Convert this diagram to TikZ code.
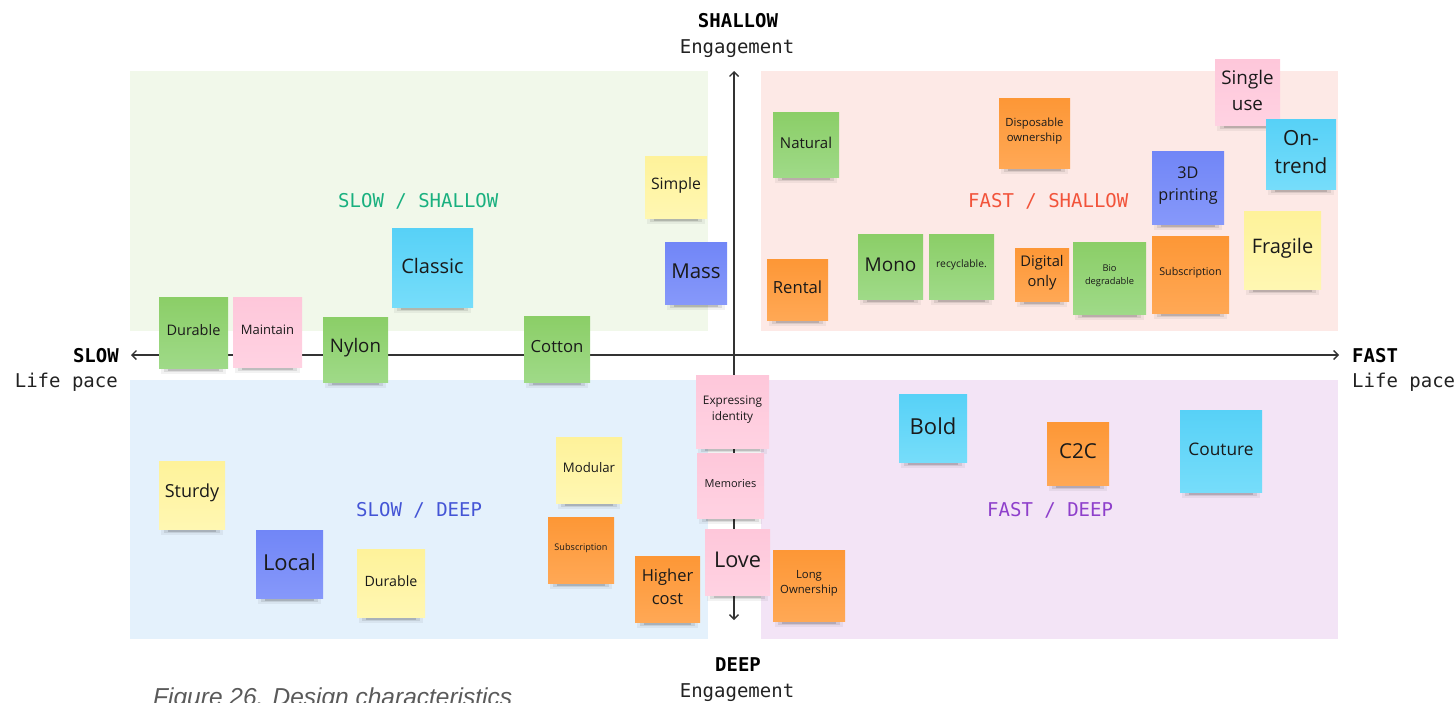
\documentclass[tikz,border=0pt]{standalone}
\usepackage{fontspec}
\setmainfont{Open Sans}
\newfontfamily\monofont{DejaVu Sans Mono}
\newfontfamily\captionfont{Liberation Sans}
\usetikzlibrary{arrows.meta}

% quadrant backgrounds
\definecolor{qGreen}{HTML}{F1F8EA}
\definecolor{qPink}{HTML}{FDE9E6}
\definecolor{qBlue}{HTML}{E4F1FC}
\definecolor{qPurple}{HTML}{F3E4F6}
% quadrant titles
\definecolor{tGreen}{HTML}{19B07F}
\definecolor{tRed}{HTML}{F2533A}
\definecolor{tBlue}{HTML}{4455D6}
\definecolor{tPurple}{HTML}{8E3FCB}
% sticky note colours (top / bottom of the gradient)
\definecolor{GreenTop}{HTML}{8BCE67}
\definecolor{GreenBot}{HTML}{9FDA88}
\definecolor{PinkTop}{HTML}{FEC7DA}
\definecolor{PinkBot}{HTML}{FFD2E2}
\definecolor{YellowTop}{HTML}{FEF29A}
\definecolor{YellowBot}{HTML}{FFF7B2}
\definecolor{CyanTop}{HTML}{57D1F7}
\definecolor{CyanBot}{HTML}{76DDFA}
\definecolor{VioletTop}{HTML}{7186F7}
\definecolor{VioletBot}{HTML}{8698FA}
\definecolor{OrangeTop}{HTML}{FD9736}
\definecolor{OrangeBot}{HTML}{FFA855}
\definecolor{noteText}{HTML}{1A1A1A}
\definecolor{axisGray}{HTML}{333333}
\definecolor{labelGray}{HTML}{222222}
\definecolor{captionGray}{HTML}{5A5A5A}

% a sticky note: name, colour, x1, y1, x2, y2, font size, text
\newcommand\sticky[8]{%
  \pgfmathsetmacro\stkX{(#3+#5)/2}%
  \pgfmathsetmacro\stkY{(#4+#6)/2}%
  \pgfmathsetmacro\stkW{#5-#3}%
  \pgfmathsetmacro\stkH{#6-#4}%
  \pgfmathsetmacro\stkSkip{#7*1.38}%
  \fill[black,opacity=0.05] (#3+2,#6-6) rectangle (#5-2,#6+6);
  \fill[black,opacity=0.09] (#3+5,#6-4) rectangle (#5-5,#6+4);
  \fill[black,opacity=0.14] (#3+9,#6-2) rectangle (#5-9,#6+2.5);
  \node[notepaper, top color=#2Top, bottom color=#2Bot,
        minimum width=\stkW pt, minimum height=\stkH pt] (#1) at (\stkX,\stkY) {};
  \node[notetext, font=\fontsize{#7}{\stkSkip}\selectfont]
        (#1-text) at ([yshift=2pt]#1.center) {#8};
}

\tikzset{
  notepaper/.style={rectangle, inner sep=0pt},
  notetext/.style={inner sep=1pt, align=center, text=noteText},
  axisline/.style={draw=axisGray, line width=1.4pt,
    {Straight Barb[length=4.5pt,width=9pt]}-{Straight Barb[length=4.5pt,width=9pt]}},
  axisbold/.style={font=\monofont\bfseries\fontsize{19}{22}\selectfont, text=black, inner sep=0pt},
  axistext/.style={font=\monofont\fontsize{19}{22}\selectfont, text=labelGray, inner sep=0pt},
  quadtitle/.style={font=\monofont\fontsize{19}{22}\selectfont, inner sep=0pt, anchor=base west},
}

\begin{document}
\begin{tikzpicture}[x=1pt,y=-1pt]
\path[use as bounding box] (0,0) rectangle (1456,702);

% quadrants
\fill[qGreen]  (130,71)  rectangle (708,331);
\fill[qPink]   (761,71)  rectangle (1338,331);
\fill[qBlue]   (130,380) rectangle (708,639);
\fill[qPurple] (761,380) rectangle (1338,639);

% quadrant titles
\node[quadtitle, text=tGreen]  (tss) at (338,207) {SLOW / SHALLOW};
\node[quadtitle, text=tRed]    (tfs) at (968,207) {FAST / SHALLOW};
\node[quadtitle, text=tBlue]   (tsd) at (356,516) {SLOW / DEEP};
\node[quadtitle, text=tPurple] (tfd) at (987,516) {FAST / DEEP};

% axes
\coordinate (hl) at (131,355);
\coordinate (hr) at (1339,355);
\coordinate (vt) at (734,71);
\coordinate (vb) at (734,620);
\draw[axisline] (hl) -- (hr);
\draw[axisline] (vt) -- (vb);

% axis labels
\node[axisbold, anchor=base] (shallow) at (738,27) {SHALLOW};
\node[axistext, anchor=base] (engTop) at (737,53) {Engagement};
\node[axisbold, anchor=base] (deep) at (738,671) {DEEP};
\node[axistext, anchor=base] (engBot) at (737,697) {Engagement};
\node[axisbold, anchor=base east] (slow) at (119,362) {SLOW};
\node[axistext, anchor=base east] (paceL) at (118,387) {Life pace};
\node[axisbold, anchor=base west] (fast) at (1352,362) {FAST};
\node[axistext, anchor=base west] (paceR) at (1352,387) {Life pace};

% slow / shallow
\sticky{durG}{Green}{159}{297}{228}{368}{14.5}{Durable}
\sticky{maint}{Pink}{233}{297}{302}{367}{13}{Maintain}
\sticky{nylon}{Green}{323}{317}{388}{382}{18.7}{Nylon}
\sticky{classic}{Cyan}{392}{228}{473}{307}{20}{Classic}
\sticky{cotton}{Green}{524}{316}{590}{382}{16.7}{Cotton}
\sticky{simple}{Yellow}{645}{156}{707}{218}{15.8}{Simple}
\sticky{mass}{Violet}{665}{242}{727}{304}{20.5}{Mass}

% fast / shallow
\sticky{natural}{Green}{773}{112}{839}{177}{15}{Natural}
\sticky{rental}{Orange}{767}{259}{828}{320}{16.7}{Rental}
\sticky{mono}{Green}{858}{234}{923}{299}{19}{Mono}
\sticky{recyc}{Green}{929}{234}{994}{299}{10.3}{recyclable.}
\sticky{digital}{Orange}{1015}{248}{1069}{301}{14.7}{Digital\\only}
\sticky{bio}{Green}{1073}{242}{1146}{314}{9.3}{Bio\\degradable}
\sticky{dispos}{Orange}{999}{98}{1070}{168}{11.3}{Disposable\\ownership}
\sticky{single}{Pink}{1215}{59}{1280}{125}{18.8}{Single\\use}
\sticky{ontrend}{Cyan}{1266}{119}{1336}{189}{20.8}{On-\\trend}
\sticky{printing}{Violet}{1152}{151}{1224}{224}{16.2}{3D\\printing}
\sticky{fragile}{Yellow}{1244}{211}{1321}{289}{20}{Fragile}
\sticky{subsA}{Orange}{1152}{236}{1229}{313}{10.7}{Subscription}

% along the deep axis
\sticky{express}{Pink}{696}{375}{769}{448}{11.8}{Expressing\\identity}
\sticky{memor}{Pink}{697}{453}{764}{518}{11}{Memories}
\sticky{love}{Pink}{705}{529}{770}{595}{21.7}{Love}

% slow / deep
\sticky{modular}{Yellow}{556}{437}{622}{503}{13.2}{Modular}
\sticky{subsB}{Orange}{548}{517}{614}{583}{9.1}{Subscription}
\sticky{higher}{Orange}{635}{556}{700}{622}{16.5}{Higher\\cost}
\sticky{sturdy}{Yellow}{159}{461}{225}{529}{18}{Sturdy}
\sticky{local}{Violet}{256}{530}{323}{598}{22}{Local}
\sticky{durY}{Yellow}{357}{549}{425}{617}{14.2}{Durable}

% fast / deep
\sticky{long}{Orange}{773}{550}{845}{621}{11.3}{Long\\Ownership}
\sticky{bold}{Cyan}{899}{394}{967}{462}{22}{Bold}
\sticky{c2c}{Orange}{1047}{422}{1109}{485}{20.6}{C2C}
\sticky{couture}{Cyan}{1180}{410}{1262}{492}{17.3}{Couture}

% caption, cut by the lower edge
\begin{scope}
\clip (0,0) rectangle (1456,702);
\node[font=\captionfont\itshape\fontsize{24.5}{28}\selectfont, text=captionGray,
      anchor=base west, inner sep=0pt] (caption) at (153,705) {Figure 26. Design characteristics};
\end{scope}
\end{tikzpicture}
\end{document}
